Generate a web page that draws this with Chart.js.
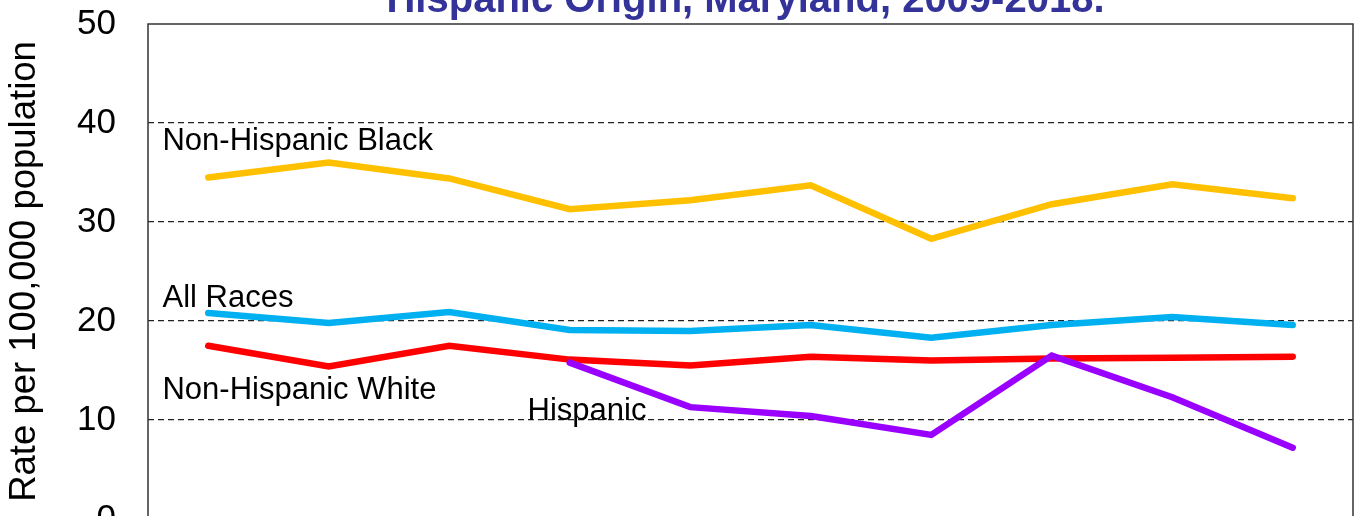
<!DOCTYPE html>
<html><head><meta charset="utf-8">
<script src="https://cdn.jsdelivr.net/npm/chart.js@4/dist/chart.umd.min.js"></script>
<style>html,body{margin:0;padding:0;overflow:hidden;background:#fff}canvas{display:block}</style>
</head><body>
<canvas id="c" width="1358" height="600"></canvas>
<script>
const years = ['2009','2010','2011','2012','2013','2014','2015','2016','2017','2018'];
const nhBlack  = [34.5, 36.0, 34.4, 31.3, 32.2, 33.7, 28.3, 31.8, 33.8, 32.4];
const allRaces = [20.8, 19.8, 20.9, 19.1, 19.0, 19.6, 18.3, 19.6, 20.4, 19.6];
const nhWhite  = [17.5, 15.4, 17.5, 16.1, 15.5, 16.4, 16.0, 16.2, 16.3, 16.4];
const hispanic = [null, null, null, 15.8, 11.3, 10.4, 8.5, 16.5, 12.3, 7.2];
const yMin = 0, yMax = 50, yStep = 10;
const titleText = 'Hispanic Origin, Maryland, 2009-2018.';
const yTitle = 'Rate per 100,000 population';
// series name labels anchored in data space (category index, value at baseline)
const seriesLabels = [
  {text:'Non-Hispanic Black', x:-0.38, y:37.3},
  {text:'All Races',          x:-0.38, y:21.4},
  {text:'Non-Hispanic White', x:-0.38, y:12.1},
  {text:'Hispanic',           x:2.65,  y:10.0}
];
const FONT = '"Liberation Sans", Arial, Helvetica, sans-serif';

const decor = {
  id:'decor',
  beforeDatasetsDraw(chart){
    const {ctx, scales:{x,y}} = chart;
    ctx.save();
    ctx.font = '31px ' + FONT;
    ctx.textBaseline = 'alphabetic';
    ctx.textAlign = 'left';
    ctx.fillStyle = '#000';
    seriesLabels.forEach(l=>{
      ctx.fillText(l.text, x.getPixelForValue(l.x), y.getPixelForValue(l.y));
    });
    ctx.restore();
  },
  afterDraw(chart){
    const {ctx, chartArea:a} = chart;
    ctx.save();
    ctx.strokeStyle = '#333';
    ctx.lineWidth = 1.5;
    ctx.strokeRect(a.left, a.top, a.right - a.left, a.bottom - a.top);
    ctx.font = 'bold 40px ' + FONT;
    ctx.fillStyle = '#333399';
    ctx.textAlign = 'center';
    ctx.textBaseline = 'alphabetic';
    ctx.fillText(titleText, (a.left + a.right)/2 - 5, 12);
    ctx.restore();
  }
};

const lineDs = (label, data, color, order) => ({
  label, data, borderColor: color, backgroundColor: color,
  borderWidth: 6.5, pointRadius: 0, tension: 0, fill: false, order,
  borderCapStyle: 'round', borderJoinStyle: 'miter', spanGaps: false
});

new Chart(document.getElementById('c'), {
  type: 'line',
  data: {
    labels: years,
    datasets: [
      lineDs('Hispanic', hispanic, '#9900FF', 0),
      lineDs('Non-Hispanic White', nhWhite, '#FF0000', 1),
      lineDs('All Races', allRaces, '#00B0F0', 2),
      lineDs('Non-Hispanic Black', nhBlack, '#FFC000', 3)
    ]
  },
  options: {
    responsive: false, animation: false, devicePixelRatio: 1,
    layout: {padding: {top: 24, right: 5, left: 0, bottom: 0}},
    plugins: {legend: {display: false}, tooltip: {enabled: false}, title: {display: false}},
    scales: {
      x: {
        offset: true,
        grid: {display: false}, border: {display: false},
        ticks: {color: '#000', font: {size: 35, family: FONT}},
        afterFit(s){ s.height = 81; s.paddingLeft = 0; s.paddingRight = 0; }
      },
      y: {
        min: yMin, max: yMax,
        ticks: {stepSize: yStep, color: '#000', padding: 24, font: {size: 35, family: FONT}},
        grid: {
          color: c => (c.tick && (c.tick.value === yMin || c.tick.value === yMax)) ? 'rgba(0,0,0,0)' : '#222',
          lineWidth: 1.2, tickLength: 8,
          tickColor: 'rgba(0,0,0,0)'
        },
        border: {display: false, dash: [6, 4]},
        title: {display: true, text: yTitle, color: '#000', font: {size: 36.5, family: FONT}, padding: {top: 3, bottom: 4}},
        afterFit(s){ s.width = 148; s.paddingTop = 0; s.paddingBottom = 0; }
      }
    }
  },
  plugins: [decor]
});
</script>
</body></html>
